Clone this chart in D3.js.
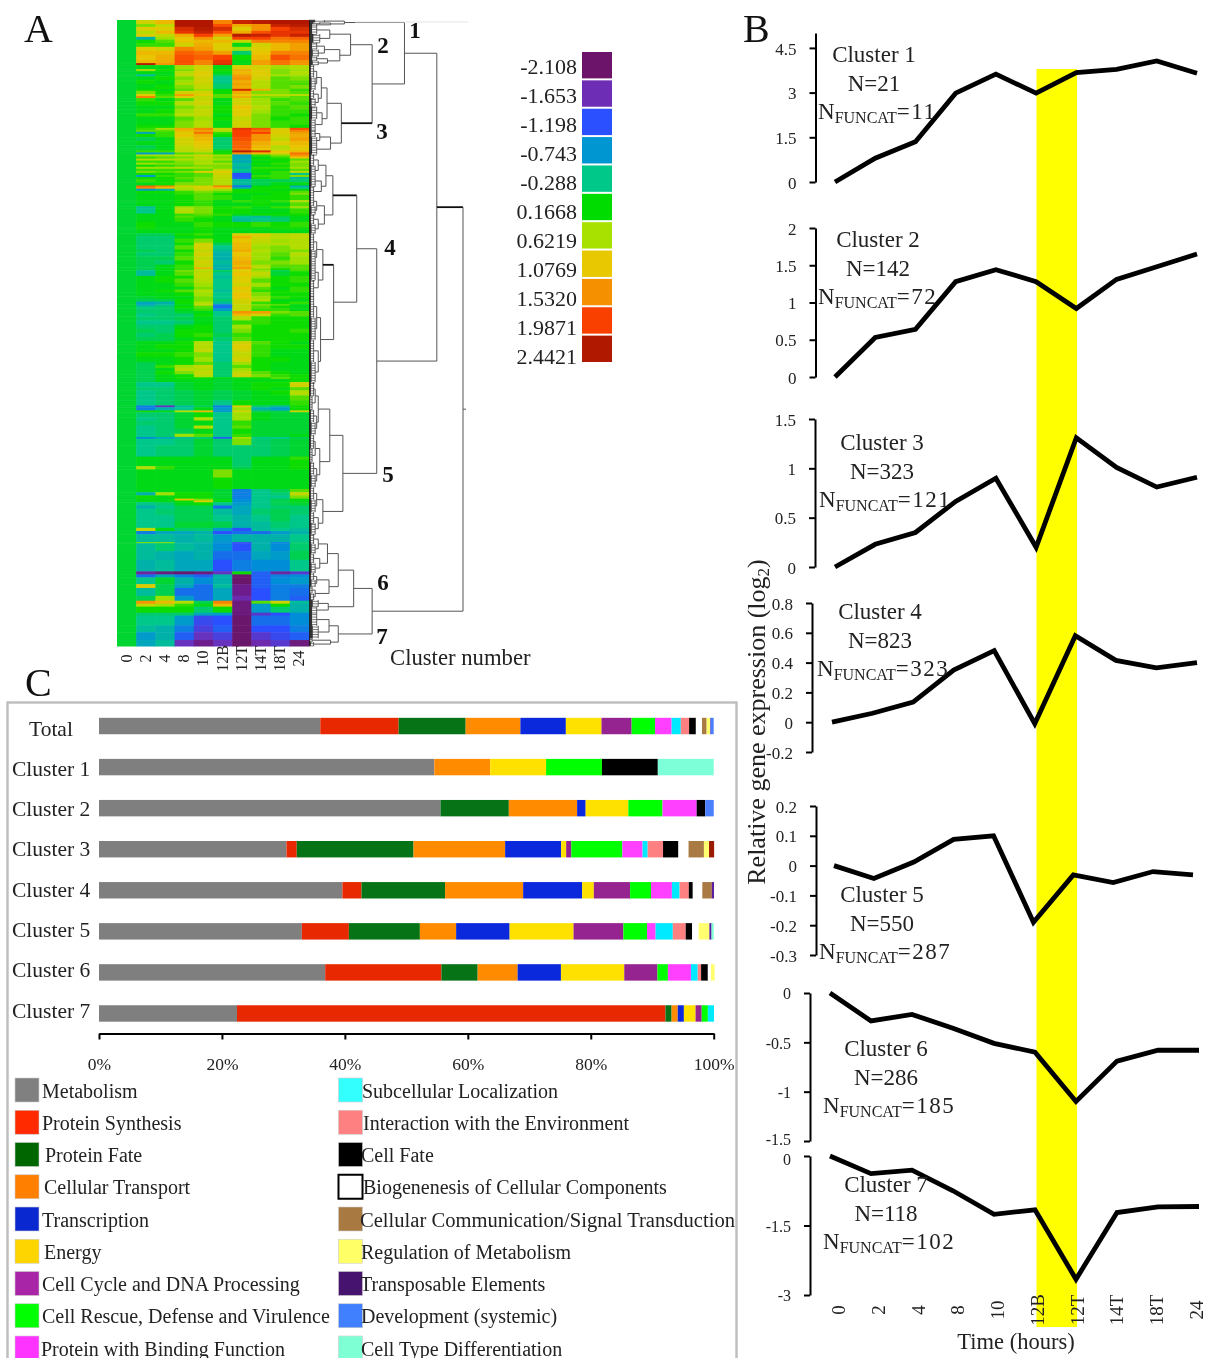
<!DOCTYPE html>
<html>
<head>
<meta charset="utf-8">
<script src="https://cdn.jsdelivr.net/npm/d3@7"></script>
<style>
  html, body { margin: 0; padding: 0; background: #fff; overflow: hidden; }
  svg { filter: blur(0.35px); }
  text { font-family: "Liberation Serif", serif; fill: #222; }
</style>
</head>
<body>
<svg id="chart" width="1206" height="1358"></svg>
<script>
const timeLabels = ['0', '2', '4', '8', '10', '12B', '12T', '14T', '18T', '24'];

// panel A colour key
const heatValues = [-2.108, -1.653, -1.198, -0.743, -0.288, 0.1668, 0.6219, 1.0769, 1.5320, 1.9871, 2.4421];
const heatLabels = ['-2.108', '-1.653', '-1.198', '-0.743', '-0.288', '0.1668', '0.6219', '1.0769', '1.5320', '1.9871', '2.4421'];
const heatColors = ['#6b1469', '#6e2db5', '#2a50ff', '#0096d2', '#00c888', '#00dc00', '#a8e000', '#e8c800', '#f59000', '#fa4000', '#b01800'];

// heat map rows: [weight, 2, 4, 8, 10, 12B, 12T, 14T, 18T, 24], time 0 is always 0.
// weight is a row's share inside its block of genes
const rowsCluster12 = [
  [14, .9, 1.2, 2.44, 2.44, 1.6, 2.3, 2.4, 2.44, 2.44],
  [10, .5, .8, 2.44, 2.44, 1.9, 1.3, 1.5, 2.3, 2.4],
  [14, 1, 1, 2.2, 2.4, 2.2, 1, 1.5, 2, 2.2],
  [10, .7, 1.2, 2.1, 2.3, 1.9, 1.3, 1.9, 2.1, 2.1],
  [11, 1, .8, 1.3, 2, 1.4, 2.4, 2.3, 2.1, 2.3],
  [10, -.5, .6, 1.1, 1.5, .9, 2, 2, 1.7, 1.8],
  [11, .2, .4, 1.1, 1.2, 1.2, .8, 1.6, 1.6, 1.6],
  [14, .3, .3, .9, 1.3, 1, .1, .9, 1.2, 1.4],
  [14, 1, .9, 1.6, 1.4, 1, .6, 1, 1.2, 1.4],
  [14, 1.2, 1.2, 1.8, 1.7, 1.4, -.2, 1.1, 1.6, 1.6],
  [18, 1.1, 1.3, 1.9, 1.8, 2, .2, 1.2, 1.9, 1.7],
  [11, 1.2, 1.3, 1.9, 1.6, 2.1, .1, 1.4, 1.7, 1.5],
  [7, 2.4, 1.5, 1.9, 1.6, 2.2, .1, 1.4, 1.7, 1.5]
];
const rowsCluster3 = [
  [14, .1, .1, .6, .9, .1, 1, .9, .6, .7],
  [7, .6, .2, .5, .9, .2, 1.3, 1, .5, .6],
  [11, .1, .1, .7, 1, .1, 1.2, 1, .5, .7],
  [7, -.4, .1, .8, 1, -.1, 1.4, 1, .6, .6],
  [14, .1, .2, .5, .9, -.3, 1.5, .9, .4, .5],
  [11, .2, .1, .6, .9, -.3, 1.3, .7, .4, .4],
  [4, .1, .1, .8, .8, -.2, 1.5, .8, .4, .3],
  [14, .1, .2, .5, .8, -.2, 1.3, .7, .4, .5],
  [7, .2, .1, .4, .6, .1, 2.2, 1.3, .5, .3],
  [11, .5, .2, .9, .9, .2, 1.3, .5, .5, .4],
  [7, 1, .3, 1.4, 1, .4, 1.1, .8, .7, .7],
  [7, 1.6, .4, 1, .8, .4, 1.3, .5, .5, .4],
  [11, .3, .1, .4, .8, .1, .9, .6, .3, .4],
  [14, .2, .2, .7, .9, .1, .9, .6, .4, .3],
  [14, .1, .1, .5, .7, .2, 1.1, .7, .3, .4],
  [14, .1, .2, .6, .8, .2, 1, .6, .3, .3],
  [11, .3, .3, .7, .8, .1, 1, .5, .3, .2],
  [14, .1, .1, .4, .6, .2, .8, .5, .2, .3],
  [14, .1, .1, .5, .7, .1, .9, .5, .3, .3],
  [11, .2, .2, .5, .7, .1, .9, .5, .3, .2],
  [7, .3, .6, 1.3, 1.6, .8, 2.1, 1.9, .9, 1.9],
  [7, .4, .4, 1.2, 1.4, .7, 2, 1.7, 1, 1.6],
  [7, -.6, .3, 1, 1.7, .3, 2, 2, 1, 1.4],
  [11, .2, .3, 1.1, 1.3, .2, 2, 1.5, .9, 1.3],
  [14, -.1, .1, .9, 1.2, -.2, 1.9, 1.5, .8, 1.4],
  [14, .1, .1, .9, 1.1, -.2, 1.8, 1.3, 1, 1.2],
  [11, -.1, .1, .8, 1, -.2, 1.8, 1.2, .7, 1.1],
  [7, 0, .1, .7, .9, -.1, 1.7, 1.1, .7, 1],
  [7, .3, .3, .8, .8, .2, 2.4, 2.2, 1.1, 1.2],
  [7, -.7, -.6, .4, .5, .2, 1.5, 1.2, 1, 1.7]
];
const rowsCluster4a = [
  [7, .6, .6, .7, .9, .6, -.6, .3, .5, 1.5],
  [7, .3, .4, .5, .7, .5, -.6, .1, .3, 1.1],
  [7, .7, .7, .7, .7, .6, -.5, .2, .2, .4],
  [7, .3, .3, .5, .6, .4, -.6, .1, .2, .6],
  [7, .6, .5, .5, .7, .6, -.4, .2, .3, .5],
  [7, .2, .3, .4, .5, .5, -.4, .1, .2, .5],
  [7, .6, .6, .7, .6, .5, -.5, .3, .3, .6],
  [7, .3, .3, .3, .4, .8, -.3, .2, .1, .4],
  [7, .5, .4, .5, 1, 1, -.4, .2, .3, .7],
  [7, .2, .2, .3, .4, .9, -1.2, .1, .3, -.3],
  [7, -.7, .3, .3, .4, .8, -1.2, .3, .3, .5],
  [7, .2, .2, .4, .5, .8, -1.1, .2, .3, -.4],
  [11, .3, .2, .3, .5, .7, -.4, -.1, -.1, -.2],
  [11, .1, .2, .5, .5, .7, -.4, -.1, .1, .1],
  [4, 1.8, 1.6, .9, .9, 1.7, -1.1, .1, .2, -.6],
  [7, 1.6, 1.2, .7, 1, 1.2, -.6, .2, .2, -.3],
  [7, -.7, -.5, .6, .8, .6, .2, .2, .1, .1],
  [7, .2, .2, .3, .5, .4, .2, .2, .2, .4],
  [7, .1, .1, .3, .4, .2, .1, .1, .2, .5],
  [18, .1, .1, .2, .4, .3, .1, .2, .2, .3],
  [7, .1, .1, .2, .3, .1, .3, .2, .3, .7],
  [14, .1, .1, .2, .3, .1, .1, .2, .1, .4],
  [7, -.4, .1, .6, .5, .2, .3, .1, .3, .6],
  [18, -.3, .1, .7, .5, .2, .2, .1, .1, .3],
  [7, .1, .1, .3, .4, .3, .1, .2, .2, .2],
  [7, .1, .1, .4, .3, .1, -.3, -.4, -.1, .1],
  [14, .1, .1, .3, .2, .1, -.4, -.3, -.2, .1],
  [18, .2, .1, .1, .3, .2, .2, .3, .2, .3],
  [7, .2, .1, .1, .2, .1, .1, .1, .2, .2],
  [14, .1, .1, .1, .2, .1, .1, .1, .1, .1]
];
const rowsCluster4b = [
  [7, -.1, -.1, .2, .3, .1, 1, 1, .7, .8],
  [7, -.2, -.2, .1, .2, .1, 1.3, .9, .7, .8],
  [11, -.2, -.2, .3, .5, .1, 1.1, .8, .6, .7],
  [7, -.2, -.2, .2, .9, -.1, 1.2, .7, .7, .7],
  [11, -.2, -.2, .4, .9, -.3, 1.2, .6, .5, .7],
  [7, -.1, -.2, .2, .8, -.4, 1.3, .7, .5, .5],
  [11, -.2, -.2, .3, .9, -.5, 1.1, .6, .4, .7],
  [11, -.1, -.1, .4, .8, -.5, 1.2, .6, .3, .6],
  [11, -.1, -.2, .2, .9, -.4, 1.3, .5, .5, .6],
  [7, -.1, .1, .3, .8, -.5, 1.2, .7, .4, .4],
  [4, -.1, .1, .3, 1.3, -.5, 1.5, .7, .3, .4],
  [4, -.1, .1, .3, .8, -.5, 1.1, .5, .2, .4],
  [4, -.4, .1, .5, .7, -.1, 1, .6, -.1, .3],
  [11, -.4, .1, .4, .8, -.3, 1.1, .8, 0, .2],
  [7, .1, .2, .2, .8, -.4, 1, .6, .2, .3],
  [11, .1, .2, .4, .7, -.3, 1, .4, .2, .3],
  [11, .1, .1, .3, .6, -.3, .9, .6, .2, .2],
  [7, .1, .1, .1, .5, -.3, 1.1, .4, .1, .3],
  [7, .1, .2, .4, .7, -.4, 1, .3, .2, .3],
  [11, .1, .1, .2, .6, -.3, 1.1, .5, .2, .2],
  [7, 0, .1, .1, .5, -.3, 1.1, .6, .3, .2],
  [7, -.1, -.1, .2, .5, -.2, .9, .7, .1, .1],
  [7, -.6, -.5, .2, .7, -.4, .9, .3, .2, .3],
  [4, -.6, -.4, .1, .8, -.9, .8, .5, .4, .1],
  [7, -.3, -.2, .2, .4, -1, .8, .4, .2, .1],
  [7, -.2, -.2, .1, .3, -.7, .8, .3, .3, .1],
  [7, -.2, -.2, 0, .1, -.3, 1.5, 1.4, .5, .4],
  [7, -.3, -.2, -.2, .2, -.3, 1.2, .9, .3, .4],
  [11, -.2, -.2, -.1, .1, -.2, .7, .3, .2, .2],
  [11, -.3, -.3, -.2, .1, -.2, .3, .3, .2, .2],
  [11, -.2, -.2, .1, .2, -.2, .6, .2, .2, .2],
  [11, -.1, -.2, .2, .2, -.2, .5, .2, .2, .3],
  [11, -.2, -.1, .2, .3, -.1, .3, .2, .2, .2],
  [11, -.1, -.1, .1, .2, -.2, .4, .2, .2, .2]
];
const rowsCluster4c = [
  [7, .1, .1, .2, .7, -.3, .9, .4, .2, .1],
  [11, .1, .2, .2, .7, -.3, 1, .3, .2, .2],
  [7, .1, .1, .2, .8, -.3, .9, .3, .1, .1],
  [11, .2, .2, .3, .5, -.3, .8, .3, .1, .1],
  [11, .1, .1, .2, .6, -.3, .9, .2, .2, .1],
  [7, -.1, .1, .2, .4, -.2, .6, .2, .1, .1],
  [7, -.1, .3, .6, .8, -.2, .4, .2, .1, .1],
  [7, -.1, .1, .7, .7, -.2, .6, .2, .1, .1],
  [7, -.1, .2, .5, .8, -.2, .8, .4, .2, .1],
  [7, -.1, .1, .2, .7, -.2, .9, .5, .3, .2],
  [4, -.1, .1, .2, .2, .1, .1, .2, .4, .2],
  [7, -.1, .1, .1, .1, 0, .1, .1, .1, .2]
];
const rowsCluster5 = [
  [11, -.3, -.3, 0, .1, 0, .1, .2, .2, .9],
  [7, -.2, -.2, 0, .1, 0, .1, .2, .1, .4],
  [11, -.3, -.2, -.1, 0, -.1, 0, .1, .2, .7],
  [11, -.3, -.2, -.1, 0, -.1, 0, .1, .1, .4],
  [11, -.3, -.2, -.1, 0, -.3, .2, .1, .1, .3],
  [4, -.9, -1.6, -.4, -.1, -.9, 1, -.2, -.4, .2],
  [7, -.9, -.5, -.3, .1, -.7, .6, -.5, -.7, .2],
  [4, .2, .1, .7, 1.2, -.7, .9, -.1, -.1, .9],
  [11, -.2, -.2, 0, .2, -.3, .6, .1, 0, 0],
  [7, -.3, -.2, 0, .7, -.3, .6, .1, 0, 0],
  [11, -.2, -.2, 0, .1, -.3, .3, 0, 0, 0],
  [7, -.3, -.2, 0, .7, -.3, .4, 0, 0, 0],
  [11, -.3, -.2, -.1, .1, -.3, .2, 0, 0, 0],
  [7, -.3, -.2, .6, .4, -.3, .3, 0, 0, .1],
  [4, -.8, -.6, -.4, -.2, -1.1, .6, -.3, -.3, -.1],
  [14, -.3, -.3, -.2, 0, -.2, .5, -.2, -.1, 0],
  [25, -.3, -.2, -.2, 0, -.2, -.2, -.2, -.1, 0],
  [7, .1, .1, .1, .1, .1, -.2, .1, .1, .3],
  [14, .1, .1, .1, .1, .1, -.2, .1, .1, .2],
  [7, .7, .3, .1, .1, .1, -.1, .1, .1, .2],
  [7, .1, .1, .1, .1, .5, .1, .1, .1, .1],
  [11, .1, .1, .1, .1, .5, .1, .1, .1, .1],
  [25, .1, .1, .1, .1, .2, .1, .1, .1, .1],
  [7, .1, .1, .1, .1, 0, -.9, -.3, -.1, .4],
  [7, -.5, .6, .2, .2, 0, -.9, -.3, -.2, .8],
  [7, .2, .1, .2, .2, 0, -.9, -.3, -.3, .5],
  [4, .1, .1, 1.1, .5, .1, -.8, -.3, -.1, .1],
  [4, .1, .1, .2, 1, .1, -.8, -.3, -.1, .1],
  [7, -.3, -.2, .1, .2, -.3, -.7, -.3, -.1, 0],
  [7, -.5, -.3, -.1, -.1, -1, -.6, -.3, -.2, -.2],
  [14, -.3, -.2, -.1, -.1, -.4, -.6, -.2, -.1, -.2],
  [14, -.3, -.3, -.1, -.1, -.3, -.5, -.3, -.1, -.3],
  [14, -.3, -.3, 0, 0, -.1, -.5, -.4, -.2, -.3],
  [7, .8, .1, -.2, -.2, -.7, -1.2, -.4, -.3, -.4],
  [7, -.9, -.6, -.6, -.5, -1.2, -1, -1, -.7, -.5]
];
const rowsCluster67 = [
  [29, -.4, -.4, -.5, -.4, -.7, -.5, -.5, -.5, -.3],
  [4, .5, .5, -.5, -.5, -.8, -1.3, -.5, -.9, -.2],
  [29, -.4, -.2, -.4, -.5, -.8, -1.2, -.5, -.8, -.2],
  [32, -.4, -.5, -.6, -.5, -1, -1, -.6, -.7, -.1],
  [43, -.5, -.4, -.6, -.6, -1.2, -.9, -.8, -.8, -.3],
  [11, -1.8, -2, -2.1, -2, -1.6, .2, -1.1, -1.8, -1.5],
  [11, -1, -.6, -.9, -1.1, -.5, -2.1, -1.1, -.9, -.8],
  [25, -.3, 0, -.5, -.8, -.5, -2.1, -1.1, -.8, -.7],
  [14, 1, -.1, -.6, -1, -.4, -1.9, -1.1, -.9, -.9],
  [29, -.4, -.1, -1, -1, -.6, -1.9, -1.2, -.9, -1],
  [18, -.1, .6, -.7, -1, -.6, -1.7, -1.2, -.9, -1.1],
  [11, 1.5, 1.2, .7, -.1, 1.6, -2, .4, .9, -.4],
  [11, .8, .6, .3, .1, 1.2, -2, -.7, .2, -.5],
  [22, .2, .2, .2, -.2, .2, -2, -.7, -.2, -.5],
  [11, -.2, -.2, -.2, -.6, -.7, -2, -1.5, -1.2, -.8],
  [36, -.3, -.3, -.7, -1.3, -1.2, -2.1, -1, -1, -.8],
  [25, -.4, -.5, -.9, -1.4, -1.1, -2.1, -1.2, -1.2, -.9],
  [29, -.7, -.5, -1.1, -1.6, -1.4, -2.1, -1.5, -1.3, -1.1],
  [22, -.6, -.4, -1.6, -1.9, -1.6, -2.1, -1.7, -1.5, -2]
];
const rowBlocks = [rowsCluster12, rowsCluster3, rowsCluster4a, rowsCluster4b, rowsCluster4c, rowsCluster5, rowsCluster67];
const blockGenes = [163, 323, 285, 390, 148, 550, 404];

// dendrogram: [distance, child, child], a leaf is [distance, genes]
const dendro1 = [.23, [.1, 8], [.14, [.07, 6], [.05, 7]]];
const dendro2 = [.27, [.135, [.05, 30], [.07, 31]],
  [.2, [.1, [.05, 25], [.06, 25]], [.12, [.05, 16], [.06, 15]]]];
const dendro3 = [.21,
  [.117, [.08, [.05, [.03, 45], [.04, 45]], [.06, [.03, 30], [.04, 30]]], [.085, [.05, 45], [.04, 40]]],
  [.14, [.07, [.04, 25], [.05, 25]], [.05, 38]]];
const dendro4a = [.155, [.11, [.06, [.03, 40], [.04, 36]], [.08, [.04, 40], [.03, 36]]],
  [.1, [.05, [.03, 35], [.04, 30]], [.06, [.03, 35], [.04, 34]]]];
const dendro4b = [.09, [.05, [.03, 60], [.04, 52]], [.06, [.04, 56], [.03, 56]]];
const dendro4 = [.31, dendro4a,
  [.16, dendro4b, [.075, [.05, [.03, 80], [.04, 80]], [.06, [.03, 80], [.04, 73]]]]];
const dendro5 = [.22,
  [.135, [.06, [.04, [.03, 50], [.02, 50]], [.05, [.03, 45], [.04, 45]]],
    [.07, [.04, [.03, 50], [.02, 50]], [.05, [.03, 45], [.04, 45]]]],
  [.09, [.05, [.03, 45], [.04, 45]], [.06, [.03, 40], [.04, 40]]]];
const dendro6 = [.29,
  [.19, [.12, [.06, [.03, 35], [.04, 35]], [.07, [.03, 35], [.04, 35]]],
    [.13, [.05, [.03, 25], [.04, 25]], [.04, [.02, 24], [.03, 24]]]],
  [.125, [.06, 24], [.05, 24]]];
const dendro7 = [.19, [.13, [.05, 45], [.06, 45]], [.14, [.02, 14], [.03, 14]]];
const dendroUpper = [.83, [.62, dendro1, [.41, dendro2, dendro3]], [.44, dendro4, dendro5]];
const dendroRoot = [1, dendroUpper, [.41, dendro6, dendro7]];
const heavyBranches = [dendroUpper, dendro3, dendro4a, dendro4b];
const clusterNumbers = ['1', '2', '3', '4', '5', '6', '7'];

// panel B
const clusterNames = ['Cluster 1', 'Cluster 2', 'Cluster 3', 'Cluster 4', 'Cluster 5', 'Cluster 6', 'Cluster 7'];
const clusterN = ['N=21', 'N=142', 'N=323', 'N=823', 'N=550', 'N=286', 'N=118'];
const clusterFuncat = ['=11', '=72', '=121', '=323', '=287', '=185', '=102'];
const expr1 = [0, .8, 1.35, 2.98, 3.62, 2.98, 3.67, 3.78, 4.06, 3.65];
const expr2 = [0, .53, .64, 1.28, 1.44, 1.28, .92, 1.31, 1.48, 1.65];
const expr3 = [0, .23, .35, .665, .9, .2, 1.31, 1.01, .81, .91];
const expr4 = [0, .06, .135, .35, .48, -.01, .58, .415, .365, .4];
const expr5 = [0, -.043, .012, .088, .1, -.19, -.031, -.057, -.02, -.031];
const expr6 = [0, -.283, -.217, -.357, -.51, -.6, -1.1, -.69, -.58, -.58];
const expr7 = [0, -.38, -.305, -.75, -1.26, -1.16, -2.66, -1.22, -1.1, -1.09];
const exprTicks = [
  [0, 1.5, 3, 4.5],
  [0, .5, 1, 1.5, 2],
  [0, .5, 1, 1.5],
  [-.2, 0, .2, .4, .6, .8],
  [-.3, -.2, -.1, 0, .1, .2],
  [-1.5, -1, -.5, 0],
  [-3, -1.5, 0]
];
const exprDomains = [[0, 5], [0, 2], [0, 1.5], [-.2, .8], [-.3, .2], [-1.5, 0], [-3, 0]];

// panel C, percent of genes per functional category
const funcCategories = ['Metabolism', 'Protein Synthesis', 'Protein Fate', 'Cellular Transport', 'Transcription', 'Energy',
  'Cell Cycle and DNA Processing', 'Cell Rescue, Defense and Virulence', 'Protein with Binding Function',
  'Subcellular Localization', 'Interaction with the Environment', 'Cell Fate', 'Biogenenesis of Cellular Components',
  'Cellular Communication/Signal Transduction', 'Regulation of Metabolism', 'Transposable Elements',
  'Development (systemic)', 'Cell Type Differentiation', 'Unclassified'];
const barGroups = ['Total', 'Cluster 1', 'Cluster 2', 'Cluster 3', 'Cluster 4', 'Cluster 5', 'Cluster 6', 'Cluster 7'];
const shareTotal = [36, 12.75, 10.9, 8.9, 7.4, 5.8, 4.9, 3.8, 2.7, 1.5, 1.35, 1.1, 1, .75, .55, .1, .5, 0, 0];
const shareC1 = [54.55, 0, 0, 9.09, 0, 9.09, 0, 9.09, 0, 0, 0, 9.09, 0, 0, 0, 0, 0, 9.09, 0];
const shareC2 = [55.56, 0, 11.11, 11.11, 1.39, 6.94, 0, 5.56, 5.56, 0, 0, 1.39, 0, 0, 0, 0, 1.39, 0, 0];
const shareC3 = [30.5, 1.67, 19, 14.9, 9.1, .83, .83, 8.3, 3.3, .83, 2.5, 2.5, 1.65, 2.5, .83, 0, 0, 0, .83];
const shareC4 = [39.6, 3.1, 13.6, 12.7, 9.6, 1.9, 5.9, 3.4, 3.4, 1.25, 1.5, .65, 1.55, 1.55, 0, .35, 0, 0, 0];
const shareC5 = [33, 7.65, 11.55, 5.9, 8.7, 10.4, 8.1, 3.85, 1.4, 2.8, 2.1, 1.05, 1.05, 0, 1.75, .35, 0, .35, 0];
const shareC6 = [36.8, 18.9, 5.9, 6.5, 7.05, 10.3, 5.4, 1.7, 3.75, 1.1, .55, 1.1, .5, 0, .6, 0, 0, 0, 0];
const shareC7 = [22.45, 69.7, 1, 1, 1, 1.9, 1, 1, 0, 1, 0, 0, 0, 0, 0, 0, 0, 0, 0];
const shareRows = [shareTotal, shareC1, shareC2, shareC3, shareC4, shareC5, shareC6, shareC7];
const shareTicks = [0, 20, 40, 60, 80, 100];

const barColors = ['#7f7f7f', '#e82800', '#067316', '#ff8c00', '#0a28dc', '#ffe100', '#952390', '#00ff00', '#ff40ff',
  '#00eaff', '#ff8080', '#000000', '#ffffff', '#a97a43', '#ffff70', '#5a1e9e', '#4a80ff', '#7dffd8', '#9a1a00'];
const swatchColors = ['#808080', '#ff2a00', '#006600', '#ff7f00', '#0a28d0', '#ffd500', '#a825a8', '#00ff00', '#ff33ff',
  '#33ffff', '#ff8080', '#000000', '#ffffff', '#a87a42', '#ffff66', '#46146e', '#4080ff', '#7fffd4'];

const svg = d3.select('#chart');
const defs = svg.append('defs');
defs.append('filter').attr('id', 'soft')
  .attr('x', '-2%').attr('y', '-2%').attr('width', '104%').attr('height', '104%')
  .append('feGaussianBlur').attr('stdDeviation', '0.5 0.4');

// panel letters
svg.selectAll('.letter')
  .data([['A', 24, 42], ['B', 743, 42], ['C', 25, 696]])
  .enter().append('text')
  .attr('x', d => d[1]).attr('y', d => d[2])
  .attr('font-size', 40).style('fill', '#111')
  .text(d => d[0]);

// ---- panel A ----
const heatColor = d3.scaleLinear().domain(heatValues).range(heatColors).clamp(true);
const heatX = d3.scaleBand().domain(timeLabels).range([117, 309]);
const totalGenes = d3.sum(blockGenes);
const heatY = d3.scaleLinear().domain([0, totalGenes]).range([20, 646]);

const heat = svg.append('g').attr('filter', 'url(#soft)');
let geneTop = 0;
rowBlocks.forEach((rows, b) => {
  const perWeight = blockGenes[b] / d3.sum(rows, r => r[0]);
  rows.forEach(r => {
    const genes = r[0] * perWeight;
    const y0 = heatY(geneTop);
    const y1 = heatY(geneTop + genes);
    const vals = [0].concat(r.slice(1));
    heat.selectAll(null).data(vals).enter().append('rect')
      .attr('x', (d, i) => heatX(timeLabels[i]))
      .attr('y', y0)
      .attr('width', heatX.bandwidth() + .5)
      .attr('height', y1 - y0 + .5)
      .attr('fill', d => heatColor(d));
    geneTop += genes;
  });
});

svg.append('g').selectAll('text').data(timeLabels).enter().append('text')
  .attr('transform', d => `translate(${heatX(d) + heatX.bandwidth() / 2 + 5},658.5) rotate(-90)`)
  .attr('text-anchor', 'middle')
  .attr('font-size', 16)
  .text(d => d);

// dendrogram
const dendroX = d3.scaleLinear().domain([0, 1]).range([309, 463]);
const dendroG = svg.append('g').attr('fill', 'none').attr('stroke', '#555').attr('stroke-width', 1);
let geneCursor = 0;
const leafTotal = (function count(n) {
  return typeof n[1] === 'number' ? n[1] : count(n[1]) + count(n[2]);
})(dendroRoot);
const dendroY = d3.scaleLinear().domain([0, leafTotal]).range([20, 646]);

function drawNode(node) {
  const x = dendroX(node[0]);
  if (typeof node[1] === 'number') {
    // leaf: one thin line per gene next to the map, thinned out further away
    const y0 = dendroY(geneCursor);
    const y1 = dendroY(geneCursor + node[1]);
    const mid = dendroX(node[0] * .4);
    const near = d3.range(node[1]).map(i => `M${dendroX(0)},${dendroY(geneCursor + i + .5)}H${mid}`).join('');
    const far = d3.range(0, node[1], 9).map(i => `M${mid},${dendroY(geneCursor + i + 4.5)}H${x}`).join('');
    dendroG.append('path').attr('d', near).attr('stroke', '#000').attr('stroke-width', .4);
    dendroG.append('path').attr('d', far).attr('stroke', '#222').attr('stroke-width', .6);
    dendroG.append('path').attr('d', `M${x},${y0}V${y1}`).attr('stroke', '#222').attr('stroke-width', .7);
    geneCursor += node[1];
    return (y0 + y1) / 2;
  }
  const a = drawNode(node[1]);
  const b = drawNode(node[2]);
  const xa = dendroX(node[1][0]);
  const xb = dendroX(node[2][0]);
  dendroG.append('path').attr('d', `M${xa},${a}H${x}`)
    .attr('stroke', heavyBranches.includes(node[1]) ? '#111' : '#555')
    .attr('stroke-width', heavyBranches.includes(node[1]) ? 1.8 : 1);
  dendroG.append('path').attr('d', `M${x},${a}V${b}`);
  dendroG.append('path').attr('d', `M${x},${b}H${xb}`)
    .attr('stroke', heavyBranches.includes(node[2]) ? '#111' : '#555')
    .attr('stroke-width', heavyBranches.includes(node[2]) ? 1.8 : 1);
  return (a + b) / 2;
}
const rootY = drawNode(dendroRoot);
dendroG.append('path').attr('d', `M${dendroX(1)},${rootY}h3`);
svg.append('path').attr('d', `M${dendroX(.3)},22H468`).attr('stroke', '#e4e4e4').attr('stroke-width', 1);

svg.append('g').selectAll('text')
  .data(clusterNumbers.map((d, i) => [d, [415, 383, 382, 390, 388, 383, 382][i], [38, 53, 139, 255, 482, 590, 644][i]]))
  .enter().append('text')
  .attr('x', d => d[1]).attr('y', d => d[2])
  .attr('text-anchor', 'middle')
  .attr('font-size', 23).attr('font-weight', 'bold').style('fill', '#111')
  .text(d => d[0]);

svg.append('text').attr('x', 390).attr('y', 665).attr('font-size', 22.7).text('Cluster number');

// colour key
const keyY = d3.scaleBand().domain(heatLabels).range([52, 362]).paddingInner(.07);
svg.append('g').selectAll('rect').data(heatLabels).enter().append('rect')
  .attr('x', 582).attr('width', 30)
  .attr('y', d => keyY(d)).attr('height', keyY.bandwidth())
  .attr('fill', (d, i) => heatColors[i]);
svg.append('g').selectAll('text').data(heatLabels).enter().append('text')
  .attr('x', 577).attr('text-anchor', 'end')
  .attr('y', (d, i) => 74 + i * 29)
  .attr('font-size', 22)
  .text(d => d);

// ---- panel B ----
svg.append('rect').attr('x', 1036.5).attr('y', 69).attr('width', 40.5).attr('height', 1258).attr('fill', '#ffff00');

const exprRows = [expr1, expr2, expr3, expr4, expr5, expr6, expr7];
const panelAxisX = [815.5, 815.5, 815, 812, 816, 810, 810];
const panelYRange = [[182, 33], [377, 228], [567, 419], [752, 603], [955, 806], [1141, 993], [1295, 1156]];
const panelXRange = [[835, 1197], [835, 1197], [835, 1197], [832, 1197], [834, 1193], [830, 1199], [830, 1199]];
const panelTextX = [874, 878, 882, 880, 882, 886, 886];
const panelTextY = [55, 240, 443, 612, 895, 1049, 1185];
const panelFuncatX = [818, 818, 819, 817, 819, 823, 823];

exprRows.forEach((series, p) => {
  const y = d3.scaleLinear().domain(exprDomains[p]).range(panelYRange[p]);
  const x = d3.scalePoint().domain(timeLabels).range(panelXRange[p]);
  const axis = d3.axisLeft(y).tickValues(exprTicks[p]).tickSize(6).tickSizeOuter(0).tickPadding(13)
    .tickFormat(d => String(+d.toFixed(1)));
  const g = svg.append('g').attr('transform', `translate(${panelAxisX[p]},0)`).call(axis);
  g.select('.domain').attr('stroke', '#000').attr('stroke-width', 2);
  g.selectAll('.tick line').attr('stroke', '#000').attr('stroke-width', 2);
  g.selectAll('.tick text').attr('font-size', p > 4 ? 16 : 17).attr('font-family', '"Liberation Serif", serif').attr('dy', '.36em');

  const line = d3.line().x((d, i) => x(timeLabels[i])).y(d => y(d));
  svg.append('path').datum(series).attr('d', line)
    .attr('fill', 'none').attr('stroke', '#000').attr('stroke-width', 4.8).attr('stroke-linejoin', 'miter');

  const lab = svg.append('g').attr('font-size', 23);
  lab.append('text').attr('x', panelTextX[p]).attr('y', panelTextY[p] + 7).attr('text-anchor', 'middle').text(clusterNames[p]);
  lab.append('text').attr('x', panelTextX[p]).attr('y', panelTextY[p] + 36).attr('text-anchor', 'middle').text(clusterN[p]);
  const f = lab.append('text').attr('x', panelFuncatX[p]).attr('y', panelTextY[p] + 64);
  f.append('tspan').text('N');
  f.append('tspan').attr('font-size', 16).attr('dy', 4).text('FUNCAT');
  f.append('tspan').attr('dy', -4).attr('letter-spacing', 1.5).text(clusterFuncat[p]);

  // the last label of panel 6 and the first of panel 7 almost touch, pull them apart
  if (p === 5) g.selectAll('.tick text').filter(d => d === -1.5).attr('transform', 'translate(0,-2)');
  if (p === 6) g.selectAll('.tick text').filter(d => d === 0).attr('transform', 'translate(0,2.5)');
});

const timeX = d3.scalePoint().domain(timeLabels).range([839, 1197]);
svg.append('g').selectAll('text').data(timeLabels).enter().append('text')
  .attr('transform', d => `translate(${timeX(d) + 6},1310) rotate(-90)`)
  .attr('text-anchor', 'middle')
  .attr('font-size', 19)
  .text(d => d);
svg.append('text').attr('x', 1016).attr('y', 1349).attr('text-anchor', 'middle').attr('font-size', 22.5).text('Time (hours)');

const yTitle = svg.append('text').attr('transform', 'translate(765,722) rotate(-90)')
  .attr('text-anchor', 'middle').attr('font-size', 26);
yTitle.append('tspan').text('Relative gene expression (log');
yTitle.append('tspan').attr('font-size', 17).attr('dy', 4).text('2');
yTitle.append('tspan').attr('dy', -4).text(')');

// ---- panel C ----
svg.append('rect').attr('x', 7.5).attr('y', 702.5).attr('width', 729).attr('height', 700)
  .attr('fill', 'none').attr('stroke', '#bdbdbd').attr('stroke-width', 2.4);

const shareX = d3.scaleLinear().domain([0, 100]).range([99, 713.7]);
const shareY = d3.scaleBand().domain(barGroups).range([705.5, 1034]).paddingInner(.6).paddingOuter(.3);

const stackRows = shareRows.map((row, i) => {
  const o = { group: barGroups[i] };
  funcCategories.forEach((c, k) => { o[c] = row[k]; });
  return o;
});
const stacked = d3.stack().keys(funcCategories)(stackRows);
svg.append('g').selectAll('g').data(stacked).enter().append('g')
  .attr('fill', (d, i) => barColors[i])
  .selectAll('rect').data(d => d).enter().append('rect')
  .attr('x', d => shareX(d[0]))
  .attr('width', d => shareX(d[1]) - shareX(d[0]))
  .attr('y', d => shareY(d.data.group))
  .attr('height', shareY.bandwidth());

// group labels sit on a slightly tighter spacing than the bars
const groupLabelY = d3.scalePoint().domain(barGroups).range([735.5, 1017.5]);
svg.append('g').selectAll('text').data(barGroups).enter().append('text')
  .attr('x', d => d === 'Total' ? 29 : 12)
  .attr('y', d => groupLabelY(d))
  .attr('font-size', 21.5)
  .text(d => d);

const shareAxis = d3.axisBottom(shareX).tickValues(shareTicks).tickSize(6).tickSizeOuter(0).tickPadding(18)
  .tickFormat(d => d + '%');
const shareG = svg.append('g').attr('transform', 'translate(0,1033.5)').call(shareAxis);
shareG.select('.domain').attr('stroke', '#000').attr('stroke-width', 2);
shareG.selectAll('.tick line').attr('stroke', '#000').attr('stroke-width', 2);
shareG.selectAll('.tick text').attr('font-size', 17.5).attr('font-family', '"Liberation Serif", serif');

// legend, two columns of nine
const legendLabelX = [42, 42, 45, 44, 42, 44, 42, 42, 41, 362, 363, 361, 363, 360, 361, 360, 361, 361];
const legendY = d3.scaleLinear().domain([0, 8]).range([1078, 1336]);
const legend = svg.append('g');
funcCategories.slice(0, 18).forEach((name, i) => {
  const row = i % 9;
  const col = i < 9 ? 15 : 338.5;
  legend.append('rect').attr('x', col).attr('y', legendY(row)).attr('width', 24).attr('height', 24)
    .attr('fill', swatchColors[i])
    .attr('stroke', name.startsWith('Biogen') ? '#000' : '#ccc')
    .attr('stroke-width', name.startsWith('Biogen') ? 2 : .6);
  const t = legend.append('text').attr('x', legendLabelX[i]).attr('y', legendY(row) + 19.5)
    .attr('font-size', 20).text(name);
  if (name.startsWith('Cellular Comm')) t.attr('textLength', 375).attr('lengthAdjust', 'spacingAndGlyphs');
});
</script>
</body>
</html>
